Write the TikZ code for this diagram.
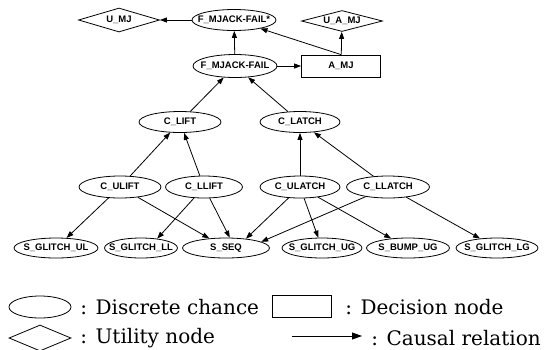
\documentclass[tikz,border=0pt]{standalone}
\usepackage{fontspec}
\setsansfont{Liberation Sans}
\newfontfamily\legendfont{DejaVu Serif}
\usetikzlibrary{shapes.geometric,arrows.meta}
\newcommand{\lbltext}[1]{\makebox[0pt]{#1}}

\begin{document}
\begin{tikzpicture}[x=1pt, y=-1pt, line width=0.8pt,
	  lbl/.style={font=\sffamily\bfseries\fontsize{9.5}{11}\selectfont},
	  chance/.style={lbl, draw, ellipse, inner sep=0pt, minimum width=80pt, minimum height=21pt},
	  utility/.style={lbl, draw, diamond, aspect=3.4, inner sep=0pt, minimum width=81pt, minimum height=24pt},
	  decision/.style={lbl, draw, rectangle, inner sep=0pt, minimum width=79pt, minimum height=22pt},
	  legend/.style={font=\legendfont\fontsize{20}{22}\selectfont, inner sep=0pt, anchor=west},
	  causal/.style={-{Triangle[length=7pt,width=5pt]}}]
	  \useasboundingbox (0,0) rectangle (545,349);
	  % top
	  \node[utility] (umj) at (119,20) {\lbltext{U\_MJ}};
	  \node[chance, minimum width=84pt] (fstar) at (234,20) {\lbltext{F\_MJACK-FAIL*}};
	  \node[utility, minimum height=21pt] (uamj) at (342,21) {\lbltext{U\_A\_MJ}};
	  \node[chance, minimum width=84pt, minimum height=23pt] (fail) at (235,66) {\lbltext{F\_MJACK-FAIL}};
	  \node[decision] (amj) at (341,66) {\lbltext{A\_MJ}};
	  % components
	  \node[chance, minimum width=82pt] (clift) at (180,122) {\lbltext{C\_LIFT}};
	  \node[chance] (clatch) at (300,122) {\lbltext{C\_LATCH}};
	  \node[chance, minimum width=82pt, minimum height=22pt] (culift) at (120,187) {\lbltext{C\_ULIFT}};
	  \node[chance, minimum width=77pt, minimum height=22pt] (cllift) at (204,187) {\lbltext{C\_LLIFT}};
	  \node[chance, minimum height=22pt] (culatch) at (300,187) {\lbltext{C\_ULATCH}};
	  \node[chance, minimum width=83pt, minimum height=22pt] (cllatch) at (388,187) {\lbltext{C\_LLATCH}};
	  % symptoms
	  \node[chance, minimum width=84pt, minimum height=20pt] (sglul) at (56,248) {\lbltext{S\_GLITCH\_UL}};
	  \node[chance, minimum width=73pt, minimum height=20pt] (sglll) at (141,248) {\lbltext{S\_GLITCH\_LL}};
	  \node[chance, minimum width=87pt, minimum height=20pt] (sseq) at (226,248) {\lbltext{S\_SEQ}};
	  \node[chance, minimum height=20pt] (sglug) at (322,248) {\lbltext{S\_GLITCH\_UG}};
	  \node[chance, minimum width=83pt, minimum height=20pt] (sbump) at (408,248) {\lbltext{S\_BUMP\_UG}};
	  \node[chance, minimum width=82pt, minimum height=20pt] (sgllg) at (497,248) {\lbltext{S\_GLITCH\_LG}};
	  % relations
	  \draw[causal] (fstar) -- (umj);
	  \draw[causal] (fail) -- (fstar);
	  \draw[causal] (amj.north) -- (fstar);
	  \draw[causal] (amj) -- (uamj);
	  \draw[causal] (fail) -- (amj);
	  \draw[causal] (clift) -- (fail);
	  \draw[causal] (clatch) -- (fail);
	  \draw[causal] (culift) -- (clift);
	  \draw[causal] (cllift) -- (clift);
	  \draw[causal] (culatch) -- (clatch);
	  \draw[causal] (cllatch) -- (clatch);
	  \draw[causal] (culift) -- (sglul);
	  \draw[causal] (culift) -- (sseq);
	  \draw[causal] (cllift) -- (sglll.30);
	  \draw[causal] (cllift) -- (sseq.70);
	  \draw[causal] (culatch) -- (sseq.25);
	  \draw[causal] (culatch) -- (sglug);
	  \draw[causal] (culatch) -- (sbump);
	  \draw[causal] (cllatch) -- (sseq.10);
	  \draw[causal] (cllatch) -- (sgllg);
	  % legend
	  \node[chance, minimum width=62pt, minimum height=22pt] (legch) at (40,307) {};
	  \node[legend] (legcht) at (80,307) {: Discrete chance};
	  \node[decision, minimum width=59pt, minimum height=22pt] (legdec) at (302,306) {};
	  \node[legend] (legdect) at (345,307) {: Decision node};
	  \node[utility, minimum width=62pt, minimum height=26pt] (legut) at (40,338) {};
	  \node[legend] (legutt) at (80,338) {: Utility node};
	  \coordinate (legarra) at (292,336);
	  \coordinate (legarrb) at (362,336);
	  \draw[-{Triangle[length=10pt,width=7pt]}] (legarra) -- (legarrb);
	  \node[legend] (legarrt) at (371,338) {: Causal relation};
	\end{tikzpicture}
\end{document}
